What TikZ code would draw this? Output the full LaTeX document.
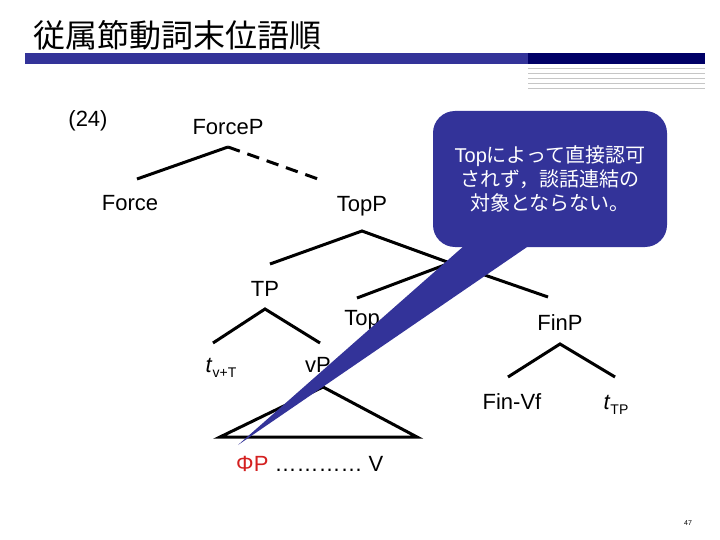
\documentclass[tikz,border=0pt]{standalone}
\usepackage{fontspec}
\setmainfont{Liberation Sans}
\newfontfamily\cjk{Noto Sans CJK JP}
\definecolor{slideblue}{HTML}{333399}
\definecolor{slidenavy}{HTML}{000066}
\definecolor{phired}{HTML}{D42020}
\begin{document}
\begin{tikzpicture}[x=1pt,y=-1pt,
  lbl/.style={font=\fontsize{22}{24}\selectfont, inner sep=0pt},
  br/.style={line width=3pt},
  dbr/.style={line width=3pt, dash pattern=on 12.5pt off 8pt},
  callbox/.style={fill=slideblue, rounded corners=22pt, minimum width=234pt, minimum height=136pt, inner sep=0pt, text=white, align=center, font=\fontsize{20}{24}\selectfont}
]
\useasboundingbox (0,0) rectangle (720,540);
\fill[white] (0,0) rectangle (720,540);

% header
\node[anchor=west, inner sep=0pt, font=\cjk\fontsize{32}{32}\selectfont] (title) at (33,35) {従属節動詞末位語順};
\fill[slideblue] (25,53) rectangle (528,64);
\fill[slidenavy] (528,53) rectangle (705,64);
\foreach \yy in {68,73,78,83,88} \draw[gray!45, line width=0.8pt] (528,\yy) -- (705,\yy);

% labels
\node[lbl] (ex) at (88,121) {(24)};
\node[lbl] (forcep) at (228,127) {ForceP};
\node[lbl] (force) at (130,203) {Force};
\node[lbl] (topp) at (362,206) {TopP};
\node[lbl] (tp) at (265,289) {TP};
\node[lbl] (top) at (362,320) {Top};
\node[lbl] (finp) at (560,323) {FinP};
\node[lbl] (tv) at (221,368) {\textit{t}\raisebox{-5pt}{\fontsize{14}{14}\selectfont v+T}};
\node[lbl] (vp) at (318,365) {vP};
\node[lbl] (finvf) at (512,402) {Fin-Vf};
\node[lbl] (ttp) at (616,405) {\textit{t}\raisebox{-5pt}{\fontsize{14}{14}\selectfont TP}};
\node[lbl, anchor=west] (phip) at (236,464) {\textcolor{phired}{ΦP} ………… V};
\node[inner sep=0pt, font=\fontsize{7}{7}\selectfont] (pg) at (688,523) {47};

% branch points
\coordinate (forcepA) at (228,147);
\coordinate (forceE) at (137,179);
\coordinate (toppE) at (318,179);
\coordinate (toppA) at (362,231);
\coordinate (tpE) at (270,264);
\coordinate (topbar) at (450,263);
\coordinate (topE) at (357,298);
\coordinate (finpE) at (548,297);
\coordinate (tpA) at (265,309);
\coordinate (tvE) at (213,343);
\coordinate (vpE) at (320,343);
\coordinate (finpA) at (560,344);
\coordinate (finvfE) at (508,377);
\coordinate (ttpE) at (615,377);
\coordinate (vpA) at (323,387);
\coordinate (triL) at (220,437);
\coordinate (triR) at (417,437);

% branches
\draw[br] (forceE) -- (forcepA);
\draw[dbr] (forcepA) -- (toppE);
\draw[br] (tpE) -- (toppA) -- (topbar);
\draw[br] (topE) -- (topbar) -- (finpE);
\draw[br] (tvE) -- (tpA) -- (vpE);
\draw[br] (finvfE) -- (finpA) -- (ttpE);
\draw[br, line join=miter] (vpA) -- (triR) -- (triL) -- cycle;

% callout
\node[callbox] (callout) at (550,179) {Top{\cjk によって直接認可}\\{\cjk されず，談話連結の}\\{\cjk 対象とならない。}};
\coordinate (tailL) at (465,245);
\coordinate (tailR) at (530,245);
\coordinate (tip) at (238,445);
\fill[slideblue] (tailL) -- (tip) -- (tailR) -- cycle;
\end{tikzpicture}
\end{document}
